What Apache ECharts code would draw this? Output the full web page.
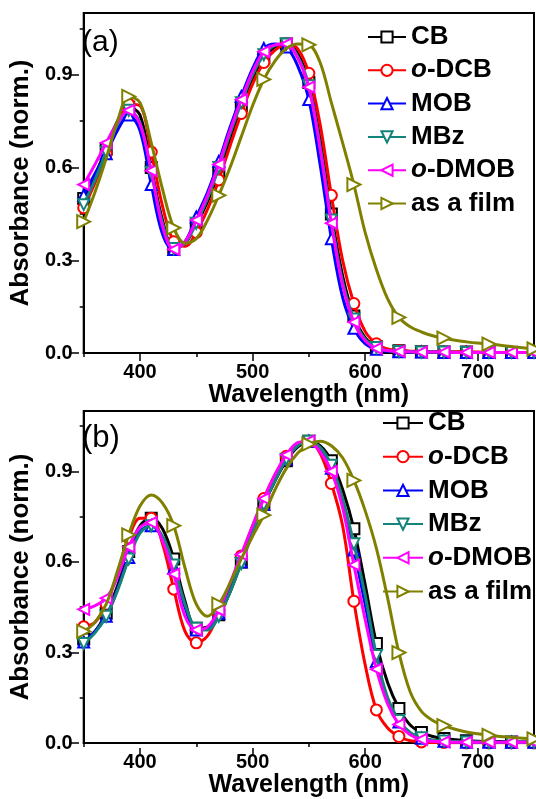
<!DOCTYPE html>
<html>
<head>
<meta charset="utf-8">
<script src="https://cdn.jsdelivr.net/npm/echarts@6/dist/echarts.min.js"></script>
<style>html,body{margin:0;padding:0;background:#fff}#c{width:536px;height:799px}</style>
</head>
<body>
<div id="c"></div>
<script>
// wavelengths (nm)
const wavelengths = [350,360,370,380,390,400,410,420,430,440,450,460,470,480,490,500,510,520,530,540,550,560,570,580,590,600,610,620,630,640,650,660,670,680,690,700,710,720,730,740,750];
const seriesNames = ['CB','o-DCB','MOB','MBz','o-DMOB','as a film'];
const xTickLabels = [400,500,600,700];
const yTickLabels = [0,0.3,0.6,0.9];

// panel (a)
const a_CB    = [0.50,0.575,0.66,0.75,0.795,0.77,0.60,0.43,0.34,0.355,0.415,0.49,0.585,0.695,0.80,0.89,0.955,0.99,1.0,0.97,0.875,0.69,0.45,0.25,0.12,0.05,0.02,0.01,0.007,0.005,0.004,0.004,0.003,0.003,0.003,0.002,0.002,0.002,0.002,0.002,0.002];
const a_oDCB  = [0.47,0.55,0.645,0.74,0.805,0.80,0.65,0.475,0.36,0.345,0.39,0.465,0.56,0.67,0.775,0.87,0.94,0.98,1.0,0.985,0.905,0.74,0.51,0.30,0.16,0.07,0.03,0.013,0.008,0.006,0.005,0.004,0.004,0.003,0.003,0.003,0.002,0.002,0.002,0.002,0.002];
const a_MOB   = [0.51,0.58,0.645,0.72,0.77,0.72,0.545,0.385,0.335,0.36,0.44,0.52,0.62,0.73,0.83,0.92,0.985,1.0,0.99,0.93,0.82,0.61,0.37,0.18,0.08,0.03,0.012,0.006,0.004,0.003,0.003,0.003,0.002,0.002,0.002,0.002,0.002,0.002,0.002,0.002,0.002];
const a_MBz   = [0.48,0.56,0.65,0.74,0.785,0.745,0.585,0.42,0.338,0.355,0.42,0.50,0.60,0.71,0.81,0.90,0.965,0.995,1.0,0.96,0.865,0.67,0.43,0.23,0.11,0.045,0.018,0.008,0.005,0.004,0.003,0.003,0.003,0.002,0.002,0.002,0.002,0.002,0.002,0.002,0.002];
const a_oDMOB = [0.545,0.61,0.68,0.745,0.785,0.74,0.59,0.41,0.335,0.36,0.43,0.51,0.61,0.72,0.82,0.91,0.975,0.997,1.0,0.955,0.86,0.66,0.42,0.22,0.10,0.04,0.015,0.008,0.005,0.004,0.003,0.003,0.003,0.002,0.002,0.002,0.002,0.002,0.002,0.002,0.002];
const a_film  = [0.425,0.52,0.63,0.75,0.83,0.81,0.68,0.53,0.405,0.355,0.37,0.43,0.51,0.60,0.70,0.80,0.885,0.945,0.985,1.0,0.997,0.94,0.81,0.68,0.545,0.39,0.27,0.175,0.115,0.085,0.068,0.056,0.048,0.041,0.036,0.032,0.029,0.025,0.021,0.017,0.013];

// panel (b)
const b_CB    = [0.345,0.37,0.43,0.52,0.635,0.72,0.745,0.71,0.61,0.47,0.38,0.385,0.425,0.50,0.60,0.70,0.79,0.87,0.935,0.98,1.0,0.985,0.935,0.84,0.71,0.525,0.33,0.20,0.115,0.06,0.035,0.022,0.015,0.011,0.008,0.006,0.005,0.005,0.004,0.004,0.004];
const b_oDCB  = [0.385,0.40,0.46,0.56,0.68,0.745,0.745,0.66,0.51,0.37,0.332,0.355,0.43,0.52,0.62,0.72,0.81,0.89,0.95,0.99,1.0,0.96,0.86,0.72,0.47,0.26,0.11,0.05,0.022,0.008,0.004,0.002,0.002,0.001,0.001,0.001,0.001,0.001,0.001,0.001,0.001];
const b_MOB   = [0.335,0.37,0.42,0.51,0.615,0.70,0.72,0.68,0.58,0.45,0.375,0.38,0.43,0.51,0.60,0.70,0.79,0.87,0.94,0.985,1.0,0.975,0.91,0.80,0.64,0.46,0.27,0.14,0.07,0.033,0.016,0.009,0.006,0.004,0.003,0.003,0.003,0.003,0.003,0.003,0.003];
const b_MBz   = [0.33,0.365,0.42,0.505,0.61,0.695,0.72,0.685,0.59,0.46,0.38,0.375,0.42,0.50,0.595,0.695,0.79,0.87,0.94,0.985,1.0,0.98,0.92,0.81,0.66,0.49,0.29,0.15,0.075,0.035,0.018,0.01,0.007,0.005,0.004,0.004,0.003,0.003,0.003,0.003,0.003];
const b_oDMOB = [0.443,0.455,0.48,0.55,0.65,0.715,0.73,0.67,0.56,0.42,0.375,0.385,0.44,0.53,0.625,0.72,0.81,0.89,0.955,0.995,1.0,0.965,0.90,0.78,0.59,0.41,0.245,0.13,0.062,0.028,0.012,0.006,0.004,0.003,0.003,0.003,0.003,0.003,0.003,0.003,0.003];
const b_film  = [0.37,0.40,0.46,0.57,0.69,0.785,0.822,0.795,0.72,0.58,0.46,0.42,0.46,0.53,0.61,0.685,0.755,0.84,0.91,0.96,0.99,1.0,0.985,0.945,0.87,0.77,0.645,0.48,0.30,0.17,0.105,0.075,0.058,0.046,0.037,0.031,0.026,0.022,0.019,0.016,0.014];

const panelA = [a_CB,a_oDCB,a_MOB,a_MBz,a_oDMOB,a_film];
const panelB = [b_CB,b_oDCB,b_MOB,b_MBz,b_oDMOB,b_film];

const colors  = ['#000000','#ff0000','#0000ff','#13847a','#ff00ff','#808000'];
const symbols = ['emptyRect','emptyCircle','emptyTriangle','emptyTriangle','emptyTriangle','emptyTriangle'];
const rotates = [0,0,0,180,90,-90];
const markerStep = [2,2,2,2,2,4];

const FONT = 'Liberation Sans, Arial, sans-serif';

function mkSeries(arrs, gi) {
  return arrs.map((arr, k) => ({
    type: 'line',
    name: seriesNames[k],
    xAxisIndex: gi * 2,
    yAxisIndex: gi * 2,
    data: wavelengths.map((w, i) => [w, arr[i]]),
    smooth: 0.35,
    color: colors[k],
    lineStyle: { width: 3, color: colors[k] },
    symbol: symbols[k],
    symbolRotate: rotates[k],
    symbolSize: (v, p) => (p.dataIndex % markerStep[k] === 0 ? (k === 5 ? 13 : 11) : 0),
    itemStyle: { color: colors[k] },
    z: 2 + k
  }));
}

const grids = [
  { left: 79, top: 13, width: 455, height: 340 },
  { left: 79, top: 411, width: 455, height: 337 }
];

const xAxes = [], yAxes = [];
grids.forEach((g, gi) => {
  xAxes.push({
    type: 'value', gridIndex: gi, min: 350, max: 750, position: 'bottom',
    axisLine: { show: true, onZero: false, lineStyle: { color: '#000', width: 2 } },
    axisTick: { show: true, customValues: [350,450,550,650,750], length: 4, lineStyle: { width: 1.5, color: '#000' } },
    axisLabel: { customValues: xTickLabels, margin: 9, color: '#000', fontSize: 20, fontWeight: 'bold', fontFamily: FONT },
    splitLine: { show: false },
    name: 'Wavelength (nm)', nameLocation: 'middle', nameGap: gi === 0 ? 26 : 25,
    nameTextStyle: { color: '#000', fontSize: 25, fontWeight: 'bold', fontFamily: FONT }
  });
  xAxes.push({
    type: 'value', gridIndex: gi, min: 350, max: 750, position: 'top', offset: -g.height,
    axisLine: { show: false },
    axisTick: { show: true, inside: true, customValues: xTickLabels, length: 8, lineStyle: { width: 1.5, color: '#000' } },
    axisLabel: { show: false }, splitLine: { show: false }
  });
  yAxes.push({
    type: 'value', gridIndex: gi, min: 0, max: 1.1, position: 'left',
    axisLine: { show: true, onZero: false, lineStyle: { color: '#000', width: 2 } },
    axisTick: { show: true, customValues: [0.15,0.45,0.75,1.05], length: 4, lineStyle: { width: 1.5, color: '#000' } },
    axisLabel: { customValues: yTickLabels, margin: 11, formatter: v => v.toFixed(1), color: '#000', fontSize: 20, fontWeight: 'bold', fontFamily: FONT },
    splitLine: { show: false },
    name: 'Absorbance (norm.)', nameLocation: 'middle', nameGap: 34,
    nameTextStyle: { color: '#000', fontSize: 26, fontWeight: 'bold', fontFamily: FONT }
  });
  yAxes.push({
    type: 'value', gridIndex: gi, min: 0, max: 1.1, position: 'right', offset: -g.width,
    axisLine: { show: false },
    axisTick: { show: true, inside: true, customValues: yTickLabels, length: 8, lineStyle: { width: 1.5, color: '#000' } },
    axisLabel: { show: false }, splitLine: { show: false }
  });
});

const legendRich = {
  i: { fontStyle: 'italic', fontWeight: 'bold', fontSize: 26, fontFamily: FONT, color: '#000', lineHeight: 26 },
  n: { fontWeight: 'bold', fontSize: 26, fontFamily: FONT, color: '#000', lineHeight: 26 }
};
const legendFmt = name => name.indexOf('o-') === 0 ? '{i|o}{n|' + name.slice(1) + '}' : '{n|' + name + '}';

function mkLegend(left, top, gap, width) {
  return {
    orient: 'vertical', left: left, top: top, padding: 0,
    itemWidth: width, itemHeight: 14, itemGap: gap,
    selectedMode: false, data: seriesNames,
    formatter: legendFmt,
    textStyle: { rich: legendRich, fontSize: 26, fontWeight: 'bold', fontFamily: FONT, color: '#000' }
  };
}

const option = {
  animation: false,
  backgroundColor: '#fff',
  grid: grids.map(g => Object.assign({ show: true, borderColor: '#000', borderWidth: 2, backgroundColor: 'transparent' }, g)),
  xAxis: xAxes,
  yAxis: yAxes,
  legend: [mkLegend(367, 24, 7.3, 38), mkLegend(382, 410, 7.7, 40)],
  graphic: [
    { type: 'text', left: 82, top: 28, style: { text: '(a)', font: '30px ' + FONT, fill: '#000' } },
    { type: 'text', left: 82, top: 423, style: { text: '(b)', font: '31px ' + FONT, fill: '#000' } }
  ],
  series: mkSeries(panelA, 0).concat(mkSeries(panelB, 1))
};

const chart = echarts.init(document.getElementById('c'), null, { renderer: 'canvas' });
chart.setOption(option);
</script>
</body>
</html>
